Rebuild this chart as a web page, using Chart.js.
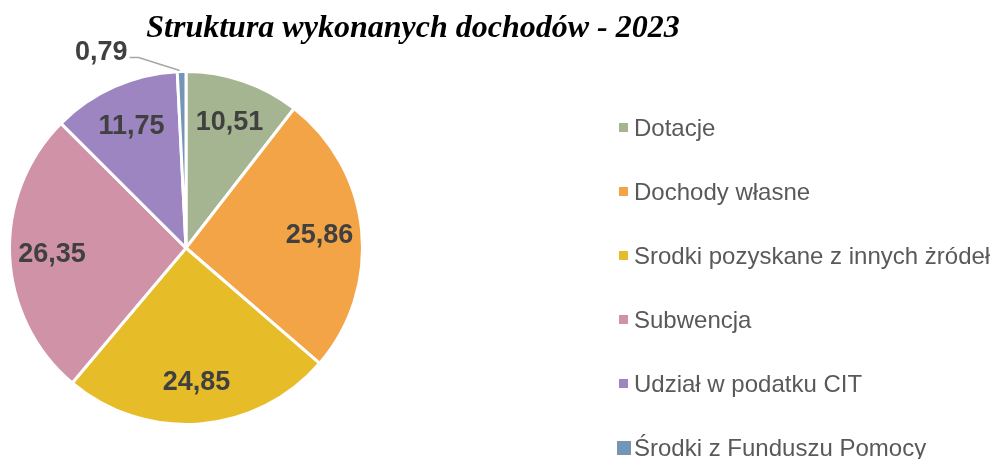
<!DOCTYPE html>
<html>
<head>
<meta charset="utf-8">
<script src="https://cdn.jsdelivr.net/npm/chart.js@4.4.0/dist/chart.umd.min.js"></script>
<style>
  html, body { margin: 0; padding: 0; background: #fff; }
  #wrap { width: 992px; height: 459px; position: relative; }
</style>
</head>
<body>
<div id="wrap"><canvas id="pieChart"></canvas></div>
<script>
(function() {
    "use strict";

    var categories = ["Dotacje", "Dochody własne", "Srodki pozyskane z innych żródeł", "Subwencja", "Udział w podatku CIT", "Środki z Funduszu Pomocy"];
    var values = [10.51, 25.86, 24.85, 26.35, 11.75, 0.79];
    var valueLabels = ["10,51", "25,86", "24,85", "26,35", "11,75", "0,79"];
    var colors = ['#a5b592', '#f3a447', '#e7bc29', '#d092a7', '#9c85c0', '#7396b7'];
    var titleText = "Struktura wykonanych dochodów - 2023";

    // labels on the slices, plus the leader line for the tiny one
    var sliceLabels = {
        id: 'sliceLabels',
        afterDatasetsDraw: function(chart) {
            var ctx = chart.ctx;
            var arcs = chart.getDatasetMeta(0).data;
            ctx.save();
            ctx.font = 'bold 27px "Liberation Sans", Arial, sans-serif';
            ctx.fillStyle = '#404040';
            ctx.textAlign = 'center';
            ctx.textBaseline = 'middle';
            arcs.forEach(function(arc, i) {
                var p = arc.getProps(['x', 'y', 'startAngle', 'endAngle', 'outerRadius']);
                var mid = (p.startAngle + p.endAngle) / 2;
                if (values[i] < 2) {
                    // outside label with leader
                    var ox = p.x + Math.cos(mid) * p.outerRadius;
                    var oy = p.y + Math.sin(mid) * p.outerRadius;
                    ctx.strokeStyle = '#a6a6a6';
                    ctx.lineWidth = 1.5;
                    ctx.beginPath();
                    ctx.moveTo(ox - 2, oy - 1);
                    ctx.lineTo(ox - 43, oy - 14);
                    ctx.lineTo(ox - 52, oy - 14);
                    ctx.stroke();
                    ctx.textAlign = 'right';
                    ctx.fillText(valueLabels[i], ox - 54, oy - 19);
                    ctx.textAlign = 'center';
                    return;
                }
                var r = p.outerRadius * 0.76;
                ctx.fillText(valueLabels[i], p.x + Math.cos(mid) * r, p.y + Math.sin(mid) * r + 1);
            });
            ctx.restore();
        }
    };

    // title and legend
    var sideText = {
        id: 'sideText',
        afterDraw: function(chart) {
            var ctx = chart.ctx;
            ctx.save();
            ctx.fillStyle = '#000';
            ctx.font = 'italic bold 32px "Liberation Serif", "Times New Roman", serif';
            ctx.textAlign = 'center';
            ctx.textBaseline = 'middle';
            ctx.fillText(titleText, 413, 29);

            ctx.font = '24px "Liberation Sans", Arial, sans-serif';
            ctx.textAlign = 'left';
            categories.forEach(function(name, i) {
                var y = 128 + i * 64;
                ctx.fillStyle = colors[i];
                if (i === categories.length - 1) {
                    ctx.fillRect(617, y - 7, 14, 14);
                } else {
                    ctx.fillRect(619, y - 5, 9, 9);
                }
                ctx.fillStyle = '#595959';
                ctx.fillText(name, 634, y + 1);
            });
            ctx.restore();
        }
    };

    var ctx = document.getElementById("pieChart").getContext('2d');
    new Chart(ctx, {
        type: 'pie',
        data: {
            labels: categories,
            datasets: [{
                data: values,
                backgroundColor: colors,
                borderColor: '#ffffff',
                borderWidth: 3
            }]
        },
        options: {
            responsive: true,
            maintainAspectRatio: false,
            animation: false,
            layout: { padding: { left: 8, top: 70, right: 628, bottom: 33 } },
            plugins: {
                legend: { display: false },
                tooltip: { enabled: false }
            }
        },
        plugins: [sliceLabels, sideText]
    });
})();
</script>
</body>
</html>
